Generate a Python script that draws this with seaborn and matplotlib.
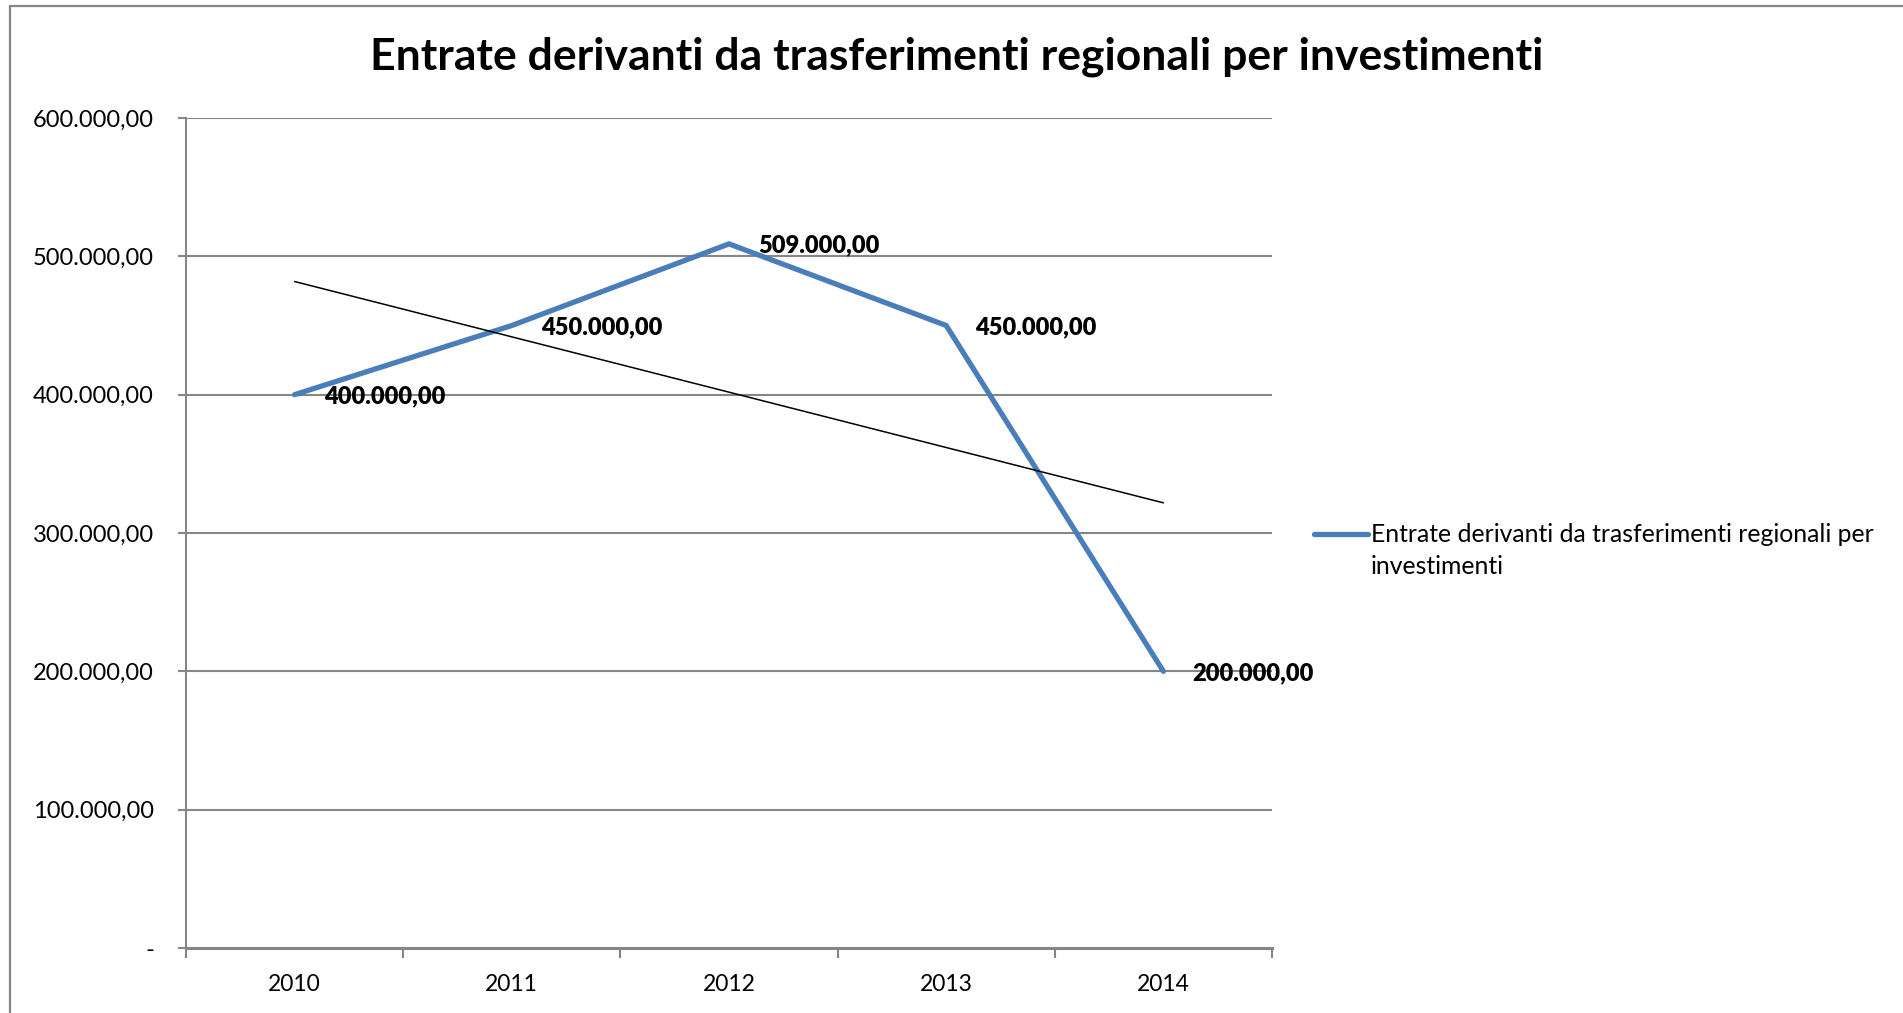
import numpy as np
import pandas as pd
import matplotlib
matplotlib.use("Agg")
import matplotlib.pyplot as plt
from matplotlib.lines import Line2D
from matplotlib.ticker import FuncFormatter, FixedLocator
import seaborn as sns

# Chart data
years = ["2010", "2011", "2012", "2013", "2014"]
values = [400000, 450000, 509000, 450000, 200000]
series_name = "Entrate derivanti da trasferimenti regionali per investimenti"
title = "Entrate derivanti da trasferimenti regionali per investimenti"
y_ticks = [0, 100000, 200000, 300000, 400000, 500000, 600000]

df = pd.DataFrame({"Anno": years, "Valore": values})
df["pos"] = np.arange(len(df))

sns.set_theme(style="white")
plt.rcParams["font.family"] = ["Lato", "DejaVu Sans"]
plt.rcParams["text.color"] = "black"

W, H = 1903, 1013
fig = plt.figure(figsize=(W / 100, H / 100), dpi=100)
ax = fig.add_axes([186 / W, 1 - 948 / H, 1086 / W, 830 / H])

grey = "#868686"
blue = "#4A7EBB"


def it_fmt(v, _pos=None):
    if v == 0:
        return "-"
    s = f"{v:,.2f}"
    return s.replace(",", "X").replace(".", ",").replace("X", ".")


# gridlines
for t in y_ticks[1:]:
    ax.axhline(t, color=grey, lw=1.5, zorder=0)

# main series
sns.lineplot(data=df, x="pos", y="Valore", ax=ax, color=blue, lw=3.8,
             legend=False, solid_capstyle="round", solid_joinstyle="miter")

# linear trendline
sns.regplot(data=df, x="pos", y="Valore", ax=ax, scatter=False, ci=None,
            truncate=True, color="black", line_kws={"lw": 1.1, "zorder": 3})

# data labels
for _, r in df.iterrows():
    ax.annotate(it_fmt(r["Valore"]), (r["pos"], r["Valore"]),
                xytext=(21, -1.2), textcoords="offset points",
                ha="left", va="center", fontsize=17, fontweight="heavy", color="black")

ax.set_xlim(-0.5, len(years) - 0.5)
ax.set_ylim(0, 600000)
ax.set_xticks(df["pos"])
ax.set_xticklabels(years)
ax.xaxis.set_minor_locator(FixedLocator(np.arange(-0.5, len(years), 1.0)))
ax.set_yticks(y_ticks)
ax.yaxis.set_major_formatter(FuncFormatter(it_fmt))
ax.set_xlabel("")
ax.set_ylabel("")

for side in ["top", "right"]:
    ax.spines[side].set_visible(False)
ax.spines["left"].set_color(grey)
ax.spines["left"].set_linewidth(1.5)
ax.spines["bottom"].set_color(grey)
ax.spines["bottom"].set_linewidth(2.2)

ax.tick_params(axis="y", which="major", left=True, length=6, width=1.5, color=grey,
               pad=17, labelsize=17, labelcolor="black")
ax.tick_params(axis="x", which="major", bottom=False, length=0, pad=19,
               labelsize=16.5, labelcolor="black")
ax.tick_params(axis="x", which="minor", bottom=True, length=7, width=1.5, color=grey)

fig.suptitle(title, x=957 / W, y=1 - 57 / H, va="center", fontsize=32,
             fontweight="bold", color="black")

# legend: handle sits on the first line, label wraps onto a second line
leg = ax.legend([Line2D([0], [0], color=blue, lw=3.8, solid_capstyle="round")],
                ["Entrate derivanti da trasferimenti regionali per"],
                loc="center left", bbox_to_anchor=(1314 / W, 1 - 535 / H),
                bbox_transform=fig.transFigure, frameon=False, fontsize=17.8,
                handlelength=2.2, handletextpad=0.1, borderpad=0, borderaxespad=0)
fig.canvas.draw()
tb = leg.get_texts()[0].get_window_extent()
fig.text(tb.x0 / W, (tb.y0 - 31) / H, "investimenti", fontsize=17.8,
         ha="left", va="bottom", color="black")

# chart border (left & top only visible)
fig.add_artist(Line2D([10 / W, 10 / W], [0, 1 - 6 / H], color=grey, lw=1.6,
                      transform=fig.transFigure))
fig.add_artist(Line2D([10 / W, 1], [1 - 6 / H, 1 - 6 / H], color=grey, lw=1.6,
                      transform=fig.transFigure))

fig.savefig("out.png", dpi=100)
